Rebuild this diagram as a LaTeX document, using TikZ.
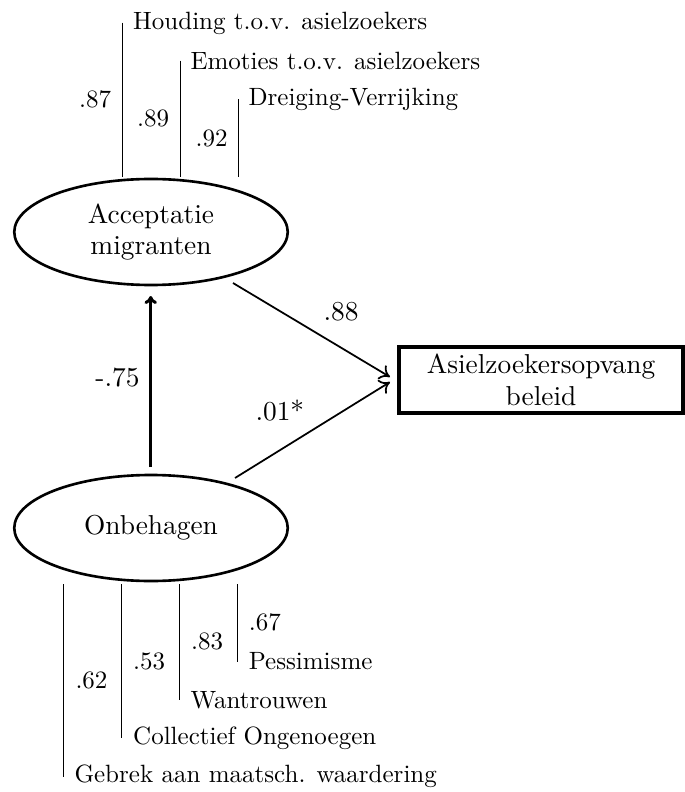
\documentclass[tikz,border=0pt]{standalone}
\usetikzlibrary{shapes.geometric,arrows.meta}
\begin{document}
\begin{tikzpicture}[x=0.4pt,y=-0.4pt,
  bigtext/.style={font=\fontsize{10.95}{12.6}\selectfont},
  latent/.style={ellipse,draw,line width=1.05pt,minimum width=109.4pt,minimum height=42.4pt,inner sep=0pt,align=center,bigtext},
  obsbox/.style={rectangle,draw,line width=1.6pt,minimum width=113.7pt,minimum height=26.4pt,inner sep=0pt,align=center,bigtext},
  lbl/.style={inner sep=0pt,anchor=base west},
  lblr/.style={inner sep=0pt,anchor=base east},
  ind/.style={line width=0.4pt},
  regr/.style={line width=0.7pt,-{To[length=4pt,width=6.5pt]}},
  corr/.style={line width=1.2pt,-{To[length=3.2pt,width=5pt]}},
]
\useasboundingbox (0,0) rectangle (685,792);

% latent variables and outcome
\node[latent] (acc) at (151,232) {Acceptatie\\migranten};
\node[latent] (onb) at (151,528) {Onbehagen};
\node[obsbox] (bel) at (541,380) {Asielzoekersopvang\\beleid};

% indicators of Acceptatie
\node[lbl] (t1) at (132.7,29.3) {Houding t.o.v. asielzoekers};
\node[lbl] (t2) at (190,70) {Emoties t.o.v. asielzoekers};
\node[lbl] (t3) at (248,106) {Dreiging-Verrijking};
\coordinate (t1a) at (122,22.7);  \coordinate (t1b) at (122,177);
\coordinate (t2a) at (180,60.7);  \coordinate (t2b) at (180,177);
\coordinate (t3a) at (238,99.3);  \coordinate (t3b) at (238,177);
\draw[ind] (t1a) -- (t1b);
\draw[ind] (t2a) -- (t2b);
\draw[ind] (t3a) -- (t3b);
\node[lblr] (l1) at (111.5,107.7) {.87};
\node[lblr] (l2) at (169.5,127) {.89};
\node[lblr] (l3) at (228,146.7) {.92};

% indicators of Onbehagen
\node[lbl] (b4) at (248.3,669.3) {Pessimisme};
\node[lbl] (b3) at (190,708.3) {Wantrouwen};
\node[lbl] (b2) at (132.7,744.3) {Collectief Ongenoegen};
\node[lbl] (b1) at (74,782.7) {Gebrek aan maatsch. waardering};
\coordinate (b1a) at (63.3,584);  \coordinate (b1b) at (63.3,776.7);
\coordinate (b2a) at (121.7,584); \coordinate (b2b) at (121.7,738.3);
\coordinate (b3a) at (179.3,584); \coordinate (b3b) at (179.3,700);
\coordinate (b4a) at (237.7,584); \coordinate (b4b) at (237.7,661.7);
\draw[ind] (b1a) -- (b1b);
\draw[ind] (b2a) -- (b2b);
\draw[ind] (b3a) -- (b3b);
\draw[ind] (b4a) -- (b4b);
\node[lbl] (m4) at (248.3,630) {.67};
\node[lbl] (m3) at (190.7,649.3) {.83};
\node[lbl] (m2) at (132.7,669.3) {.53};
\node[lbl] (m1) at (75,688.3) {.62};

% structural paths
\coordinate (p1s) at (233,283);   \coordinate (p1e) at (390,377);
\coordinate (p2s) at (235,478);   \coordinate (p2e) at (390,382);
\coordinate (p3s) at (150.7,467); \coordinate (p3e) at (150.7,296);
\draw[regr] (p1s) -- (p1e);
\draw[regr] (p2s) -- (p2e);
\draw[corr] (p3s) -- (p3e);
\node[lbl,bigtext] (c1) at (323,320.7) {.88};
\node[lbl,bigtext] (c2) at (255,420) {.01*};
\node[lblr,bigtext] (c3) at (140,386.7) {-.75};
\end{tikzpicture}
\end{document}
